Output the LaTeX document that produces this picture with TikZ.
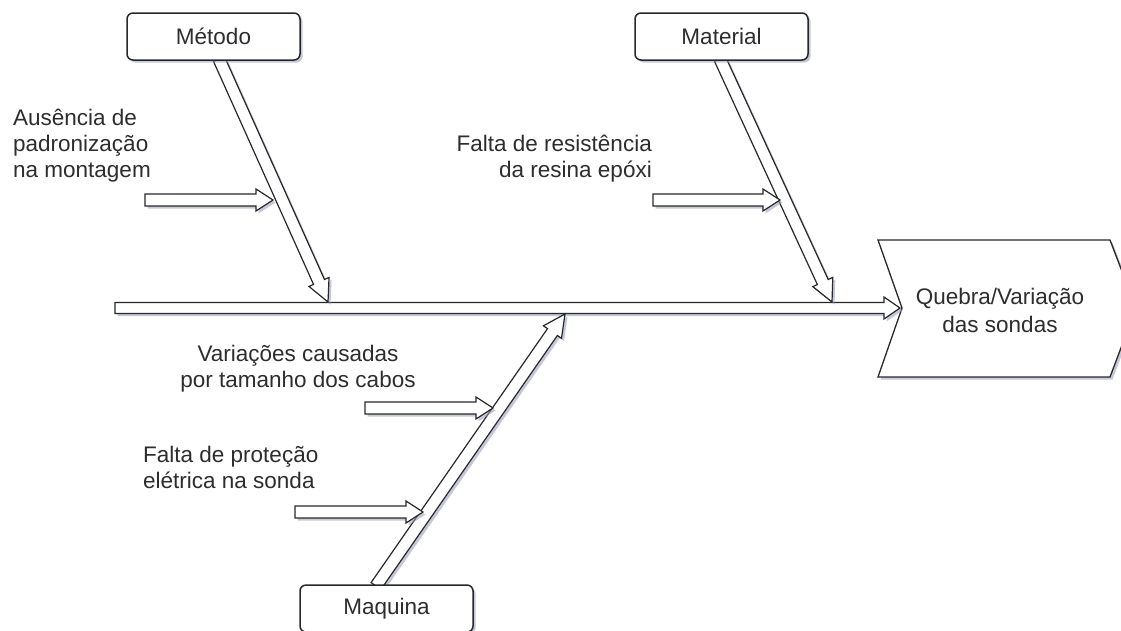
\documentclass[tikz,border=0pt]{standalone}
\usepackage{fontspec}
\setmainfont{Liberation Sans}
\usetikzlibrary{calc,shadows}
\definecolor{shadowc}{RGB}{150,155,190}
\definecolor{inkc}{RGB}{40,40,40}
\definecolor{txtc}{RGB}{45,45,45}
\tikzset{
  myshadow/.style={drop shadow={fill=shadowc,opacity=0.55,shadow xshift=2.5pt,shadow yshift=-2.5pt}},
  bonestyle/.style={draw=inkc,fill=white,line width=1.2pt,line join=miter,myshadow},
  causebox/.style={draw=inkc,fill=white,line width=1.5pt,rounded corners=6pt,minimum width=173pt,minimum height=47pt,inner sep=0pt,myshadow,font=\fontsize{22.5}{26}\selectfont,text=txtc},
  causetxt/.style={inner sep=0pt,font=\fontsize{22.5}{26}\selectfont,text=txtc},
  effecttxt/.style={inner sep=0pt,font=\fontsize{22.5}{28}\selectfont,text=txtc,align=center}
}
% #1 start, #2 end, #3 shaft half width, #4 head half width, #5 head length
\newcommand{\bonearrow}[5]{%
  \coordinate (fab) at ($(#2)!#5!(#1)$);
  \filldraw[bonestyle] ($(#1)!#3!90:(#2)$) -- ($(fab)!#3!-90:(#1)$) -- ($(fab)!#4!-90:(#1)$) -- (#2) -- ($(fab)!#4!90:(#1)$) -- ($(fab)!#3!90:(#1)$) -- ($(#1)!#3!-90:(#2)$) -- cycle;}
\begin{document}
\begin{tikzpicture}[x=1pt,y=-1pt]
\useasboundingbox (0,0) rectangle (1121,630);
\clip (0,0) rectangle (1121,630);
\fill[white] (0,0) rectangle (1121,630);

% effect shape
\filldraw[bonestyle,line width=1.3pt] (878,240) -- (1110,240) -- (1136,308) -- (1110,377) -- (878,377) -- (902,308) -- cycle;
\node[effecttxt,anchor=base] (effect) at (1000,332) {Quebra/Variação\\das sondas};

% spine
\coordinate (spinestart) at (115,308);
\coordinate (spineend) at (900,308);
\bonearrow{spinestart}{spineend}{5.5pt}{11pt}{16pt}

% boxes (positions)
\path (213.5,36.5) coordinate (metodopos) (721.5,36.5) coordinate (materialpos) (386.5,608.5) coordinate (maquinapos);

% main bones
\coordinate (metodostart) at (219,59);
\coordinate (metodotip) at (328,302);
\bonearrow{metodostart}{metodotip}{6pt}{11pt}{22pt}
\coordinate (materialstart) at (720,59);
\coordinate (materialtip) at (832,302);
\bonearrow{materialstart}{materialtip}{6pt}{11pt}{22pt}
\coordinate (maquinastart) at (376,586);
\coordinate (maquinatip) at (565,314);
\bonearrow{maquinastart}{maquinatip}{6pt}{11pt}{22pt}

% small cause arrows
\coordinate (c1s) at (145,200); \coordinate (c1e) at (273,200);
\bonearrow{c1s}{c1e}{6pt}{11pt}{17pt}
\coordinate (c2s) at (653,200); \coordinate (c2e) at (780,200);
\bonearrow{c2s}{c2e}{6pt}{11pt}{17pt}
\coordinate (c3s) at (365,408); \coordinate (c3e) at (493,408);
\bonearrow{c3s}{c3e}{6pt}{11pt}{17pt}
\coordinate (c4s) at (295,512); \coordinate (c4e) at (423,512);
\bonearrow{c4s}{c4e}{6pt}{11pt}{17pt}

% category boxes
\node[causebox] (metodo) at (metodopos) {Método};
\node[causebox] (material) at (materialpos) {Material};
\node[causebox] (maquina) at (maquinapos) {Maquina};

% cause texts (base anchor = baseline of last line)
\node[causetxt,anchor=base west,align=left] (t1) at (13,177) {Ausência de\\padronização\\na montagem};
\node[causetxt,anchor=base east,align=right] (t2) at (652,177) {Falta de resistência\\da resina epóxi};
\node[causetxt,anchor=base,align=center] (t3) at (298,387) {Variações causadas\\por tamanho dos cabos};
\node[causetxt,anchor=base west,align=left] (t4) at (143,488) {Falta de proteção\\elétrica na sonda};
\end{tikzpicture}
\end{document}
